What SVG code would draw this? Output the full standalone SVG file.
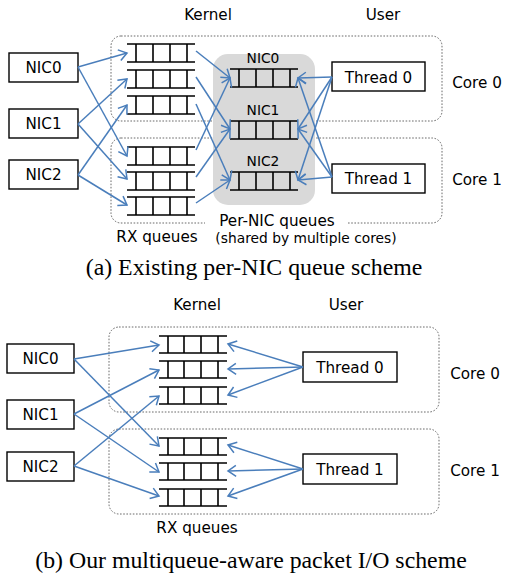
<svg xmlns="http://www.w3.org/2000/svg" width="505" height="576" viewBox="0 0 505 576">
<style>
.bg{fill:#fff}
.lbl{font-family:"DejaVu Sans",Verdana,sans-serif;font-size:15.2px;fill:#000;text-anchor:middle}
.sm{font-size:13.8px}
.cap{font-family:"Liberation Serif","Times New Roman",serif;font-size:23.8px;fill:#000;text-anchor:middle}
.box{fill:#fff;stroke:#000;stroke-width:1.4}
.core{fill:none;stroke:#444;stroke-width:0.8;stroke-dasharray:1.6 1.6}
.q{stroke:#000;stroke-width:1.6;fill:none}
.c{stroke:#4a7ebb;stroke-width:1.5;fill:none;marker-end:url(#ah)}
</style>
<defs>
<marker id="ah" viewBox="-10 -7 12 14" refX="0" refY="0" markerWidth="12" markerHeight="14" markerUnits="userSpaceOnUse" orient="auto">
<path d="M-8,-5.5 L0,0 L-8,5.5" fill="none" stroke="#4a7ebb" stroke-width="1.5"/>
</marker>
<g id="qa"><path d="M0,0 H68 M0,18 H68 M9,0 V18 M26,0 V18 M43,0 V18 M60,0 V18"/></g>
<g id="qb"><path d="M0,0 H68 M0,17 H68 M9,0 V17 M25,0 V17 M42,0 V17 M59,0 V17"/></g>
</defs>
<rect class="bg" x="0" y="0" width="505" height="576"/>

<!-- ===== (a) ===== -->
<g id="a-cores">
<rect class="core" x="111" y="36" width="331" height="85" rx="10"/>
<rect class="core" x="111" y="138" width="331" height="85" rx="10"/>
<rect x="205" y="217" width="142" height="12" fill="#fff"/>
</g>
<rect id="a-pernic-area" x="213" y="54" width="102" height="151" rx="15" fill="#d9d9d9"/>
<g id="a-headers">
<text class="lbl" x="208" y="20">Kernel</text>
<text class="lbl" x="383" y="20">User</text>
<text class="lbl" x="477" y="87.5">Core 0</text>
<text class="lbl" x="477" y="184.5">Core 1</text>
<text class="lbl" x="277" y="226">Per-NIC queues</text>
<text class="lbl sm" x="306" y="243">(shared by multiple cores)</text>
<text class="lbl" x="157" y="242">RX queues</text>
</g>
<g id="a-nic0"><rect class="box" x="9" y="53" width="69" height="29"/><text class="lbl" x="43.5" y="73">NIC0</text></g>
<g id="a-nic1"><rect class="box" x="9" y="109" width="69" height="29"/><text class="lbl" x="43.5" y="129">NIC1</text></g>
<g id="a-nic2"><rect class="box" x="9" y="160" width="69" height="29"/><text class="lbl" x="43.5" y="180">NIC2</text></g>
<g id="a-thread0"><rect class="box" x="332" y="62" width="93" height="29"/><text class="lbl" x="378.5" y="82.5">Thread 0</text></g>
<g id="a-thread1"><rect class="box" x="332" y="164" width="93" height="29"/><text class="lbl" x="378.5" y="184">Thread 1</text></g>
<g id="a-rxq" class="q">
<use href="#qa" x="127" y="44"/>
<use href="#qa" x="127" y="70"/>
<use href="#qa" x="127" y="96"/>
<use href="#qa" x="127" y="147"/>
<use href="#qa" x="127" y="172"/>
<use href="#qa" x="127" y="197"/>
</g>
<g id="a-pernicq">
<text class="lbl sm" x="263" y="63">NIC0</text>
<text class="lbl sm" x="263" y="115">NIC1</text>
<text class="lbl sm" x="263" y="166">NIC2</text>
<g class="q">
<use href="#qa" x="230" y="69"/>
<use href="#qa" x="230" y="121"/>
<use href="#qa" x="230" y="172"/>
</g>
</g>
<g id="a-connectors">
<path class="c" d="M78,67 L127,53"/>
<path class="c" d="M78,67 L127,156"/>
<path class="c" d="M78,124 L127,79"/>
<path class="c" d="M78,124 L127,179"/>
<path class="c" d="M78,175 L127,105"/>
<path class="c" d="M78,175 L127,205"/>
<path class="c" d="M196,51 L230,78"/>
<path class="c" d="M196,77 L230,129"/>
<path class="c" d="M196,104 L230,180"/>
<path class="c" d="M196,150 L230,78"/>
<path class="c" d="M196,177 L230,129"/>
<path class="c" d="M196,203 L230,180"/>
<path class="c" d="M332,77 L298,78"/>
<path class="c" d="M332,77 L298,129"/>
<path class="c" d="M332,77 L298,180"/>
<path class="c" d="M332,177 L298,78"/>
<path class="c" d="M332,177 L298,129"/>
<path class="c" d="M332,177 L298,180"/>
</g>
<text class="cap" x="254" y="275">(a) Existing per-NIC queue scheme</text>

<!-- ===== (b) ===== -->
<g id="b-cores">
<rect class="core" x="109" y="327" width="330" height="85" rx="10"/>
<rect class="core" x="109" y="429" width="330" height="85" rx="10"/>
</g>
<g id="b-headers">
<text class="lbl" x="197" y="310">Kernel</text>
<text class="lbl" x="346" y="310">User</text>
<text class="lbl" x="475" y="378.5">Core 0</text>
<text class="lbl" x="475" y="475.5">Core 1</text>
<text class="lbl" x="197" y="533">RX queues</text>
</g>
<g id="b-nic0"><rect class="box" x="7" y="344" width="67" height="29"/><text class="lbl" x="40.5" y="364">NIC0</text></g>
<g id="b-nic1"><rect class="box" x="7" y="400" width="67" height="29"/><text class="lbl" x="40.5" y="420">NIC1</text></g>
<g id="b-nic2"><rect class="box" x="7" y="452" width="67" height="29"/><text class="lbl" x="40.5" y="472">NIC2</text></g>
<g id="b-thread0"><rect class="box" x="303" y="352" width="94" height="30"/><text class="lbl" x="350" y="372.5">Thread 0</text></g>
<g id="b-thread1"><rect class="box" x="303" y="454" width="94" height="30"/><text class="lbl" x="350" y="474.5">Thread 1</text></g>
<g id="b-rxq" class="q">
<use href="#qb" x="159" y="336"/>
<use href="#qb" x="159" y="361"/>
<use href="#qb" x="159" y="387"/>
<use href="#qb" x="159" y="438"/>
<use href="#qb" x="159" y="463"/>
<use href="#qb" x="159" y="489"/>
</g>
<g id="b-connectors">
<path class="c" d="M74,359 L159,345"/>
<path class="c" d="M74,359 L159,446"/>
<path class="c" d="M74,414 L159,370"/>
<path class="c" d="M74,414 L159,472"/>
<path class="c" d="M74,466 L159,396"/>
<path class="c" d="M74,466 L159,496"/>
<path class="c" d="M303,367 L228,344"/>
<path class="c" d="M303,367 L228,369"/>
<path class="c" d="M303,367 L228,395"/>
<path class="c" d="M303,469 L228,445"/>
<path class="c" d="M303,469 L228,471"/>
<path class="c" d="M303,469 L228,496"/>
</g>
<text class="cap" x="251" y="568">(b) Our multiqueue-aware packet I/O scheme</text>
</svg>
